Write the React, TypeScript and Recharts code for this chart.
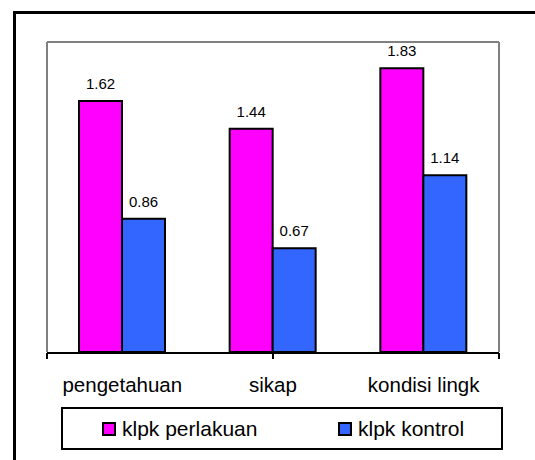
import React from 'react';
import { BarChart, Bar, XAxis, YAxis, Legend, LabelList } from 'recharts';

const categories = ['pengetahuan', 'sikap', 'kondisi lingk'];
const seriesNames = ['klpk perlakuan', 'klpk kontrol'];
const perlakuan = [1.62, 1.44, 1.83];
const kontrol = [0.86, 0.67, 1.14];
const edgeTicks = [0, 1, 2, 3];

const FONT = '"Liberation Sans", Arial, sans-serif';
const MAGENTA = '#ff00ff';
const BLUE = '#3366ff';
const GRID = '#808080';

const chartData = categories.map((cat, i) => ({
  cat,
  perlakuan: perlakuan[i],
  kontrol: kontrol[i]
}));

const legendOffsets = [41, 277];

function LegendBox(props: any) {
  const items = [...(props.payload || [])].sort(
    (a: any, b: any) => seriesNames.indexOf(a.value) - seriesNames.indexOf(b.value)
  );
  return (
    <div
      style={{
        position: 'relative',
        width: 442,
        height: 43,
        boxSizing: 'border-box',
        border: '2px solid #000',
        background: '#fff',
        fontFamily: FONT,
        fontSize: 21
      }}
    >
      {items.map((it: any, i: number) => (
        <div
          key={it.value}
          style={{
            position: 'absolute',
            left: legendOffsets[i] - 2,
            top: 0,
            height: 39,
            display: 'flex',
            alignItems: 'center',
            whiteSpace: 'nowrap'
          }}
        >
          <span
            style={{
              display: 'inline-block',
              width: 14,
              height: 14,
              boxSizing: 'border-box',
              border: '2px solid #000',
              background: it.color,
              marginRight: 6
            }}
          />
          <span style={{ color: '#000' }}>{it.value}</span>
        </div>
      ))}
    </div>
  );
}

// tick marks only, no text, for the category boundary axis
const NoTickText = () => <g />;

export default function App() {
  return (
    <div
      style={{
        position: 'absolute',
        left: 0,
        top: 0,
        width: 535,
        height: 460,
        overflow: 'hidden',
        background: '#fff'
      }}
    >
      {/* outer frame, only top/left edges are visible in the crop */}
      <div
        style={{
          position: 'absolute',
          left: 13,
          top: 11,
          width: 700,
          height: 700,
          borderTop: '3px solid #000',
          borderLeft: '3px solid #000'
        }}
      />
      <div style={{ position: 'absolute', left: 0, top: 0 }}>
        <BarChart
          width={535}
          height={460}
          data={chartData}
          margin={{ top: 41, right: 35, left: 46, bottom: 106 }}
          barCategoryGap={32}
          barGap={0}
        >
          <XAxis
            xAxisId="edges"
            type="number"
            domain={[0, 3]}
            ticks={edgeTicks}
            interval={0}
            height={1}
            tick={NoTickText}
            tickSize={6}
            axisLine={{ stroke: '#000', strokeWidth: 2 }}
            tickLine={{ stroke: '#000', strokeWidth: 2 }}
          />
          <XAxis
            dataKey="cat"
            height={1}
            axisLine={false}
            tickLine={false}
            tickSize={6}
            tickMargin={19}
            tick={{ fill: '#000', fontSize: 20.5, fontFamily: FONT }}
          />
          <XAxis
            xAxisId="top"
            orientation="top"
            dataKey="cat"
            height={1}
            tick={false}
            tickLine={false}
            axisLine={{ stroke: GRID, strokeWidth: 2 }}
          />
          <YAxis
            domain={[0, 2]}
            width={1}
            tick={false}
            tickLine={false}
            axisLine={{ stroke: GRID, strokeWidth: 2 }}
          />
          <YAxis
            yAxisId="right"
            orientation="right"
            domain={[0, 2]}
            width={1}
            tick={false}
            tickLine={false}
            axisLine={{ stroke: GRID, strokeWidth: 2 }}
          />
          <Legend
            verticalAlign="middle"
            align="center"
            layout="horizontal"
            content={<LegendBox />}
            wrapperStyle={{ left: 61, top: 407, width: 442, height: 43 }}
          />
          <Bar
            dataKey="perlakuan"
            name="klpk perlakuan"
            fill={MAGENTA}
            stroke="#000"
            strokeWidth={2}
            isAnimationActive={false}
          >
            <LabelList
              dataKey="perlakuan"
              position="top"
              offset={12}
              fill="#000"
              fontSize={15}
              fontFamily={FONT}
            />
          </Bar>
          <Bar
            dataKey="kontrol"
            name="klpk kontrol"
            fill={BLUE}
            stroke="#000"
            strokeWidth={2}
            isAnimationActive={false}
          >
            <LabelList
              dataKey="kontrol"
              position="top"
              offset={12}
              fill="#000"
              fontSize={15}
              fontFamily={FONT}
            />
          </Bar>
        </BarChart>
      </div>
    </div>
  );
}
